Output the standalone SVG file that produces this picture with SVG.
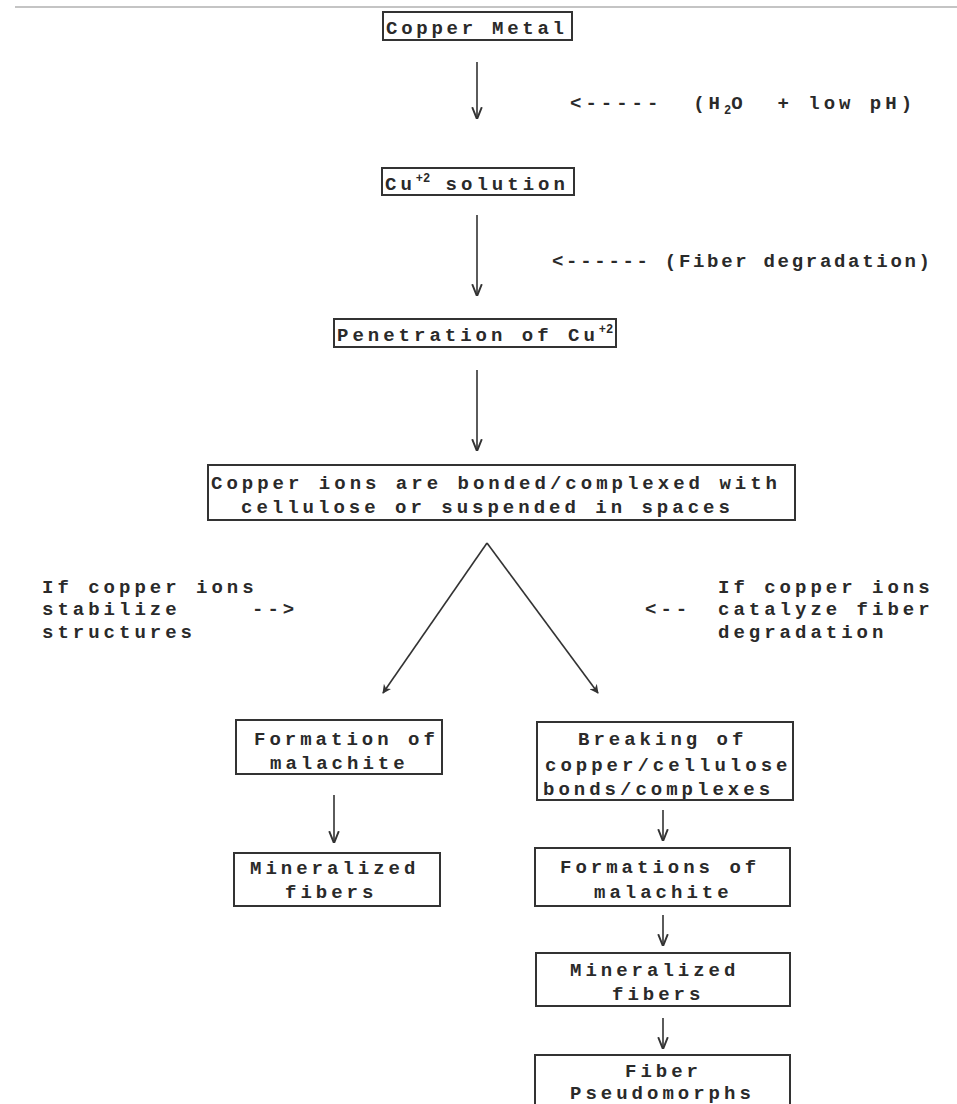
<svg xmlns="http://www.w3.org/2000/svg" width="957" height="1104" viewBox="0 0 957 1104">
<style>
  text { font-family: "Liberation Mono", "DejaVu Sans Mono", monospace; font-size: 19px; font-weight: bold; fill: #2a2a2a; letter-spacing: 4px; }
  .box { fill: none; stroke: #333; stroke-width: 2; }
  .conn line { stroke: #333; stroke-width: 1.6; }
  .sup { font-size: 12px; letter-spacing: 0; }
</style>
<defs>
  <marker id="ah" viewBox="0 0 10 10" refX="9" refY="5" markerWidth="9" markerHeight="9" markerUnits="userSpaceOnUse" orient="auto">
    <path d="M0,0 L10,5 L0,10 L3,5 Z" fill="#333"/>
  </marker>
  <marker id="ahs" viewBox="0 0 10 10" refX="9" refY="5" markerWidth="12" markerHeight="12" markerUnits="userSpaceOnUse" orient="auto">
    <path d="M0,1 L10,5 L0,9" fill="none" stroke="#333" stroke-width="1.6"/>
  </marker>
</defs>
<rect width="957" height="1104" fill="#fff"/>
<line x1="15" y1="7" x2="957" y2="7" stroke="#c4c4c4" stroke-width="2"/>

<g class="conn">
  <line x1="477" y1="62" x2="477" y2="118" marker-end="url(#ahs)"/>
  <line x1="477" y1="215" x2="477" y2="295" marker-end="url(#ahs)"/>
  <line x1="477" y1="370" x2="477" y2="450" marker-end="url(#ahs)"/>
  <line x1="487" y1="543" x2="383" y2="693" marker-end="url(#ah)"/>
  <line x1="487" y1="543" x2="598" y2="693" marker-end="url(#ah)"/>
  <line x1="334" y1="795" x2="334" y2="842" marker-end="url(#ahs)"/>
  <line x1="663" y1="810" x2="663" y2="840" marker-end="url(#ahs)"/>
  <line x1="663" y1="915" x2="663" y2="945" marker-end="url(#ahs)"/>
  <line x1="663" y1="1018" x2="663" y2="1048" marker-end="url(#ahs)"/>
</g>

<g id="n-copper-metal">
  <rect class="box" x="383" y="12" width="189" height="28"/>
  <text x="386" y="34" textLength="182" lengthAdjust="spacing">Copper Metal</text>
</g>
<g id="n-cu-solution">
  <rect class="box" x="382" y="168" width="192" height="27"/>
  <text x="385" y="190" xml:space="preserve">Cu<tspan class="sup" dy="-8">+2</tspan><tspan dy="8"> solution</tspan></text>
</g>
<g id="n-penetration">
  <rect class="box" x="334" y="319" width="282" height="28"/>
  <text x="337" y="341" xml:space="preserve">Penetration of Cu<tspan class="sup" dy="-8">+2</tspan></text>
</g>
<g id="n-bonded">
  <rect class="box" x="208" y="465" width="587" height="55"/>
  <text x="211" y="489" textLength="570" lengthAdjust="spacing">Copper ions are bonded/complexed with</text>
  <text x="241" y="513">cellulose or suspended in spaces</text>
</g>

<g id="lbl-h2o">
  <text x="570" y="109" xml:space="preserve">&lt;-----  (H<tspan class="sup" dy="5">2</tspan><tspan dy="-5">O  + low pH)</tspan></text>
</g>
<g id="lbl-fiber-deg">
  <text x="552" y="267" textLength="382" lengthAdjust="spacing" xml:space="preserve">&lt;------ (Fiber degradation)</text>
</g>
<g id="lbl-stabilize">
  <text x="42" y="593">If copper ions</text>
  <text x="42" y="615">stabilize</text>
  <text x="252" y="615">--&gt;</text>
  <text x="42" y="638">structures</text>
</g>
<g id="lbl-catalyze">
  <text x="718" y="593">If copper ions</text>
  <text x="645" y="615">&lt;--</text>
  <text x="718" y="615">catalyze fiber</text>
  <text x="718" y="638">degradation</text>
</g>

<g id="n-formation-left">
  <rect class="box" x="236" y="720" width="206" height="54"/>
  <text x="254" y="745">Formation of</text>
  <text x="270" y="769">malachite</text>
</g>
<g id="n-mineralized-left">
  <rect class="box" x="234" y="853" width="206" height="53"/>
  <text x="250" y="874">Mineralized</text>
  <text x="285" y="898">fibers</text>
</g>
<g id="n-breaking">
  <rect class="box" x="537" y="722" width="256" height="78"/>
  <text x="578" y="745">Breaking of</text>
  <text x="545" y="771">copper/cellulose</text>
  <text x="543" y="795">bonds/complexes</text>
</g>
<g id="n-formations-right">
  <rect class="box" x="535" y="848" width="255" height="58"/>
  <text x="560" y="873">Formations of</text>
  <text x="594" y="898">malachite</text>
</g>
<g id="n-mineralized-right">
  <rect class="box" x="536" y="953" width="254" height="53"/>
  <text x="570" y="976">Mineralized</text>
  <text x="612" y="1000">fibers</text>
</g>
<g id="n-pseudomorphs">
  <rect class="box" x="535" y="1055" width="255" height="60"/>
  <text x="625" y="1077">Fiber</text>
  <text x="570" y="1099">Pseudomorphs</text>
</g>
</svg>
